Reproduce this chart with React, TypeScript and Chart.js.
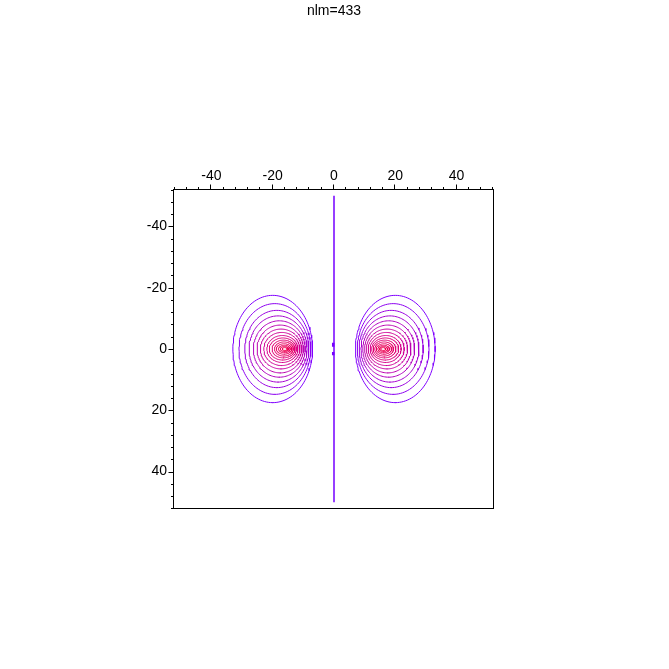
import { useEffect, useRef } from "react";
import { Chart, registerables } from "chart.js";

Chart.register(...registerables);

// ---- data ----
const TITLE = "nlm=433";
const AXIS_MIN = -52.2;
const AXIS_MAX = 52.2;
const LABEL_STEP = 20;
const MAJOR_TICKS = [-40, -20, 0, 20, 40];
const MINOR_TICKS = [-52, -48, -44, -36, -32, -28, -24, -16, -12, -8, -4, 4, 8, 12, 16, 24, 28, 32, 36, 44, 48, 52];

// contour peaks (x of the two lobes) and y of both
const LOBE_X = [-16, 16];
const LOBE_Y = 0;
// contour levels, outermost first, measured from the peak:
// reach away from x=0, reach toward x=0, vertical half height
const RING_OUTER = [17.0, 15.0, 13.1, 11.7, 10.3, 9.1, 8.0, 6.9, 5.9, 5.1, 4.2, 3.4, 2.8, 2.1, 1.5, 0.9];
const RING_INNER = [9.0, 8.4, 7.8, 7.2, 6.6, 6.0, 5.4, 4.8, 4.2, 3.7, 3.2, 2.7, 2.2, 1.7, 1.2, 0.8];
const RING_VERT = [17.5, 14.8, 12.6, 10.8, 9.2, 7.8, 6.5, 5.4, 4.4, 3.6, 2.9, 2.3, 1.7, 1.2, 0.8, 0.45];
const RING_COLORS = [
  "#8000ff", "#8c00f0", "#9a00e0", "#a600d0", "#b200c0", "#bc00b0", "#c600a2", "#ce0096",
  "#d6008a", "#dc007e", "#e00074", "#e4006a", "#e60062", "#e8005c", "#ea0056", "#ec0050",
];

// straight contour along x = 0
const DIVIDER_X = 0;
const DIVIDER_Y = [-50, 50];
// two tiny contour pieces beside the divider
const BITS_X = -0.25;
const BITS_Y = [
  [-2.0, -0.7],
  [1.0, 2.0],
];
const LINE_COLOR = "#7400ff";

const RING_STEPS = 120;

function ringPoints(peakX: number, level: number) {
  const pts: { x: number; y: number }[] = [];
  const awaySign = peakX < 0 ? -1 : 1;
  const a = (RING_OUTER[level] + RING_INNER[level]) / 2;
  const cx = peakX + awaySign * (RING_OUTER[level] - RING_INNER[level]) / 2;
  const b = RING_VERT[level];
  for (let i = 0; i <= RING_STEPS; i++) {
    const t = Math.PI / 2 + (i / RING_STEPS) * Math.PI * 2;
    pts.push({ x: cx + a * Math.cos(t), y: LOBE_Y + b * Math.sin(t) });
  }
  return pts;
}

export default function App() {
  const ref = useRef<HTMLCanvasElement | null>(null);

  useEffect(() => {
    document.body.style.margin = "0";
    const canvas = ref.current;
    if (!canvas) return;

    const datasets: any[] = [];
    LOBE_X.forEach((px) => {
      RING_OUTER.forEach((_, i) => {
        datasets.push({
          data: ringPoints(px, i),
          borderColor: RING_COLORS[i],
          borderWidth: 1,
          borderCapStyle: "round",
          borderJoinStyle: "round",
          showLine: true,
          pointRadius: 0,
          fill: false,
          tension: 0,
        });
      });
    });
    datasets.push({
      data: DIVIDER_Y.map((y) => ({ x: DIVIDER_X, y })),
      borderColor: LINE_COLOR,
      borderWidth: 1.5,
      showLine: true,
      pointRadius: 0,
    });
    BITS_Y.forEach((seg) => {
      datasets.push({
        data: seg.map((y) => ({ x: BITS_X, y })),
        borderColor: LINE_COLOR,
        borderWidth: 2.5,
        showLine: true,
        pointRadius: 0,
      });
    });

    const font = { family: "'Liberation Sans', Arial, sans-serif", size: 14 };

    const framePlugin = {
      id: "frameTicks",
      afterDraw(chart: any) {
        const ctx = chart.ctx as CanvasRenderingContext2D;
        const { left, top, right, bottom } = chart.chartArea;
        const xs = chart.scales.x;
        const ys = chart.scales.y;
        ctx.save();
        ctx.strokeStyle = "#000";
        ctx.lineWidth = 1;
        const L = Math.round(left) - 0.5;
        const T = Math.round(top) + 0.5;
        const R = Math.round(right) - 0.5;
        const B = Math.round(bottom) - 0.5;
        ctx.strokeRect(L, T, R - L, B - T);
        ctx.beginPath();
        const tick = (v: number, len: number) => {
          const px = Math.round(xs.getPixelForValue(v)) - 0.5;
          ctx.moveTo(px, T);
          ctx.lineTo(px, T - len);
          const py = Math.round(ys.getPixelForValue(v)) + 0.5;
          ctx.moveTo(L, py);
          ctx.lineTo(L - len, py);
        };
        MAJOR_TICKS.forEach((v) => tick(v, 5));
        MINOR_TICKS.forEach((v) => tick(v, 2.5));
        ctx.stroke();

        ctx.fillStyle = "#000";
        ctx.font = `${font.size}px ${font.family}`;
        ctx.textAlign = "center";
        ctx.textBaseline = "alphabetic";
        ctx.fillText(TITLE, (left + right) / 2, 15);
        ctx.restore();
      },
    };

    const chart = new Chart(canvas, {
      type: "scatter",
      data: { datasets },
      options: {
        animation: false,
        responsive: false,
        maintainAspectRatio: false,
        layout: { padding: { left: 124, top: 159, right: 175, bottom: 160 } },
        plugins: {
          legend: { display: false },
          title: { display: false },
          tooltip: { enabled: false },
        },
        scales: {
          x: {
            type: "linear",
            position: "top",
            min: AXIS_MIN,
            max: AXIS_MAX,
            grid: { display: false, drawTicks: false },
            border: { display: false },
            afterFit: (s: any) => {
              s.height = 30;
            },
            ticks: {
              stepSize: LABEL_STEP,
              includeBounds: false,
              autoSkip: false,
              maxRotation: 0,
              padding: 4,
              color: "#000",
              font,
              callback: (v: any) => (MAJOR_TICKS.includes(Number(v)) ? String(v) : ""),
            },
          },
          y: {
            type: "linear",
            position: "left",
            reverse: true,
            min: AXIS_MIN,
            max: AXIS_MAX,
            grid: { display: false, drawTicks: false },
            border: { display: false },
            afterFit: (s: any) => {
              s.width = 50;
            },
            ticks: {
              stepSize: LABEL_STEP,
              includeBounds: false,
              autoSkip: false,
              padding: 7,
              color: "#000",
              font,
              callback: (v: any) => (MAJOR_TICKS.includes(Number(v)) ? String(v) : ""),
            },
          },
        },
      },
      plugins: [framePlugin],
    } as any);

    return () => chart.destroy();
  }, []);

  return (
    <div style={{ width: 669, height: 669 }}>
      <canvas ref={ref} width={669} height={669} />
    </div>
  );
}
